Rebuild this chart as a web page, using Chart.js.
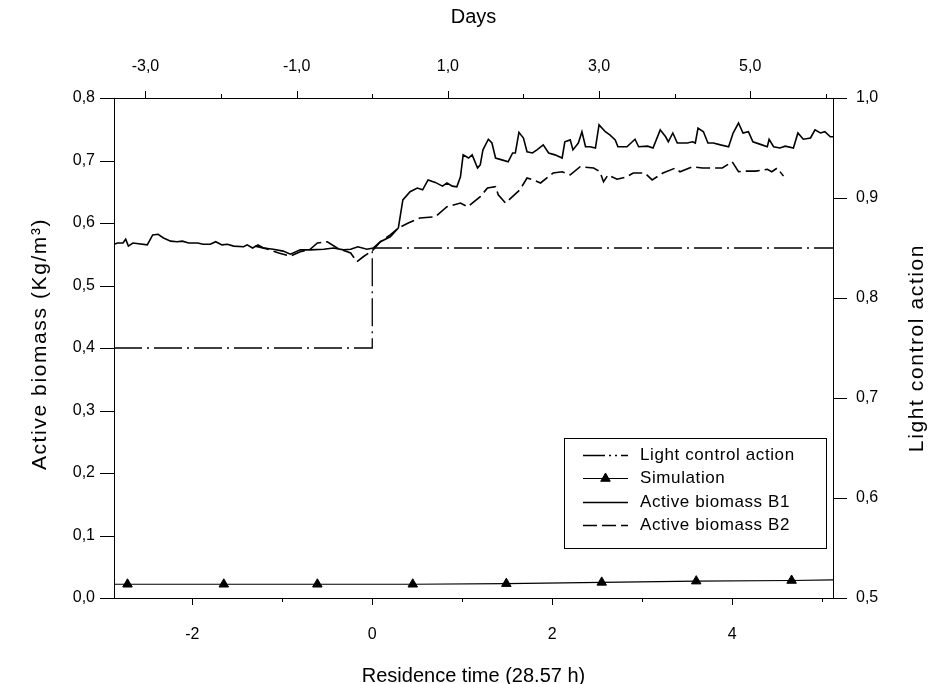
<!DOCTYPE html>
<html><head><meta charset="utf-8">
<script src="https://cdn.jsdelivr.net/npm/chart.js@4.4.1/dist/chart.umd.min.js"></script>
<style>html,body{margin:0;padding:0;background:#fff;}#wrap{width:931px;height:684px;}</style>
</head><body><div id="wrap"><canvas id="c" width="931" height="684"></canvas></div>
<script>
// ---- data (residence time units on x) ----
const lightX = [-2.87, 0, 0, 5.12];
const lightY = [0.75, 0.75, 0.85, 0.85];

const simX = [-2.87, -2.72, -1.65, -0.61, 0.45, 1.49, 2.55, 3.60, 4.66, 5.12];
const simY = [0.022, 0.022, 0.022, 0.022, 0.022, 0.023, 0.025, 0.027, 0.028, 0.029];

const b1X = [-2.87,-2.83,-2.77,-2.74,-2.71,-2.66,-2.50,-2.44,-2.38,-2.32,-2.24,-2.17,-2.11,-2.04,-1.94,-1.88,-1.80,-1.74,-1.67,-1.61,-1.54,-1.43,-1.39,-1.33,-1.27,-1.21,-1.10,-0.99,-0.91,-0.80,-0.69,-0.54,-0.43,-0.32,-0.24,-0.16,-0.06,0.01,
 0.09,0.20,0.29,0.34,0.42,0.50,0.56,0.62,0.70,0.78,0.83,0.89,0.94,0.98,1.01,1.07,1.11,1.17,1.20,1.23,1.29,1.33,1.37,1.44,1.51,1.56,1.59,1.63,1.68,1.72,1.78,1.83,1.90,1.96,2.03,2.11,2.14,2.20,2.23,2.29,2.33,2.37,2.42,2.48,2.52,2.59,2.64,2.70,2.73,2.83,2.92,2.96,3.06,3.12,3.20,3.26,3.29,3.34,3.39,3.50,3.56,3.59,3.62,3.68,3.73,3.79,3.87,3.96,4.01,4.07,4.12,4.18,4.23,4.33,4.39,4.41,4.46,4.53,4.59,4.68,4.73,4.79,4.87,4.92,4.98,5.03,5.09,5.12];
const b1Y = [0.566,0.568,0.568,0.574,0.563,0.568,0.565,0.581,0.582,0.576,0.571,0.570,0.571,0.568,0.568,0.566,0.566,0.570,0.565,0.566,0.563,0.562,0.565,0.560,0.565,0.560,0.558,0.555,0.550,0.557,0.557,0.558,0.560,0.557,0.558,0.562,0.558,0.560,
 0.570,0.578,0.592,0.637,0.650,0.656,0.653,0.669,0.665,0.659,0.664,0.659,0.658,0.674,0.709,0.704,0.709,0.688,0.693,0.717,0.734,0.728,0.704,0.701,0.698,0.712,0.712,0.745,0.736,0.714,0.712,0.717,0.725,0.712,0.709,0.704,0.730,0.733,0.717,0.728,0.746,0.722,0.722,0.720,0.757,0.746,0.741,0.733,0.722,0.722,0.734,0.722,0.723,0.720,0.749,0.738,0.730,0.744,0.728,0.728,0.730,0.728,0.752,0.746,0.728,0.728,0.725,0.722,0.744,0.760,0.744,0.746,0.730,0.725,0.722,0.734,0.722,0.720,0.723,0.720,0.744,0.734,0.736,0.749,0.744,0.746,0.738,0.738];

const b2X = [-1.30,-1.18,-1.04,-0.91,-0.80,-0.69,-0.61,-0.50,-0.39,-0.24,-0.17,-0.10,0.01,0.09,0.20,0.29,0.40,0.53,0.70,0.83,0.98,1.06,1.20,1.28,1.37,1.40,1.48,1.64,1.72,1.79,1.87,2.01,2.11,2.20,2.31,2.46,2.53,2.57,2.62,2.72,2.83,2.90,3.03,3.11,3.23,3.37,3.42,3.56,3.67,3.78,3.89,4.00,4.07,4.14,4.26,4.39,4.44,4.50,4.57];
const b2Y = [0.563,0.559,0.552,0.547,0.554,0.558,0.568,0.570,0.560,0.552,0.538,0.546,0.557,0.570,0.581,0.592,0.600,0.608,0.610,0.626,0.632,0.626,0.642,0.656,0.658,0.645,0.632,0.653,0.672,0.669,0.664,0.680,0.682,0.677,0.690,0.688,0.682,0.666,0.677,0.670,0.674,0.680,0.680,0.669,0.680,0.688,0.682,0.690,0.688,0.688,0.688,0.698,0.682,0.683,0.683,0.686,0.682,0.688,0.675];

const xRange = [-2.87, 5.12];       // residence time
const daysPerResidence = 28.57 / 24; // top axis conversion
const leftRange = [0, 0.8];
const rightRange = [0.5, 1.0];

const legendLabels = ['Light control action', 'Simulation', 'Active biomass B1', 'Active biomass B2'];
const titles = {bottom: 'Residence time (28.57 h)', top: 'Days', left: 'Active biomass (Kg/m³)', right: 'Light control action'};

// ---- drawing ----
const FONT = "'Liberation Sans', Arial, Helvetica, sans-serif";
Chart.defaults.font.family = FONT;
Chart.defaults.color = '#000';

function pts(xs, ys) { return xs.map((x, i) => ({x: x, y: ys[i]})); }
const comma = v => v.toFixed(1).replace('.', ',');
const isOdd = v => Math.abs(Math.round(v)) % 2 === 1;

const LIGHT_DASH = [28, 5, 2, 5];
const B2_DASH = [14, 5];

const tickMarks = {
  id: 'tickMarks',
  afterDraw(chart) {
    const ctx = chart.ctx;
    ctx.save();
    ctx.strokeStyle = '#000';
    ctx.lineWidth = 1;
    const s = chart.scales;
    ctx.beginPath();
    s.x.ticks.forEach(t => {
      const p = Math.round(s.x.getPixelForValue(t.value)) + 0.5;
      const len = isOdd(t.value) ? 4 : 7;
      ctx.moveTo(p, s.x.top); ctx.lineTo(p, s.x.top + len);
    });
    s.xTop.ticks.forEach(t => {
      const p = Math.round(s.xTop.getPixelForValue(t.value)) + 0.5;
      const len = isOdd(t.value) ? 7 : 4;
      ctx.moveTo(p, s.xTop.bottom); ctx.lineTo(p, s.xTop.bottom - len);
    });
    s.y.ticks.forEach(t => {
      const p = Math.round(s.y.getPixelForValue(t.value)) + 0.5;
      ctx.moveTo(s.y.right, p); ctx.lineTo(s.y.right - 14, p);
    });
    s.yR.ticks.forEach(t => {
      const p = Math.round(s.yR.getPixelForValue(t.value)) + 0.5;
      ctx.moveTo(s.yR.left, p); ctx.lineTo(s.yR.left + 14, p);
    });
    ctx.stroke();
    ctx.restore();
  }
};

function vText(ctx, text, x, y) {
  ctx.save();
  ctx.translate(x, y);
  ctx.rotate(-Math.PI / 2);
  ctx.fillText(text, 0, 0);
  ctx.restore();
}

const extras = {
  id: 'extras',
  afterDraw(chart) {
    const ctx = chart.ctx;
    const ca = chart.chartArea;
    ctx.save();
    ctx.font = '21px ' + FONT;
    try { ctx.letterSpacing = '1.6px'; } catch (e) {}
    ctx.fillStyle = '#000';
    ctx.textAlign = 'center';
    ctx.textBaseline = 'middle';
    vText(ctx, titles.left, 40, (ca.top + ca.bottom) / 2 - 4);
    vText(ctx, titles.right, 917, (ca.top + ca.bottom) / 2);
    ctx.restore();

    // legend box
    ctx.save();
    const bx = 564, by = 438, bw = 262, bh = 110;
    ctx.fillStyle = '#fff';
    ctx.fillRect(bx, by, bw, bh);
    ctx.strokeStyle = '#000';
    ctx.lineWidth = 1;
    ctx.strokeRect(bx + 0.5, by + 0.5, bw, bh);
    const rows = [455, 478, 502, 525];
    const x1 = 583, x2 = 628;
    chart.data.datasets.forEach((ds, i) => {
      const y = rows[i] + 0.5;
      ctx.save();
      ctx.strokeStyle = '#000';
      ctx.lineWidth = ds.borderWidth;
      ctx.setLineDash(i === 0 ? [22, 4, 2, 4, 2, 4] : (ds.borderDash || []));
      ctx.beginPath(); ctx.moveTo(x1, y); ctx.lineTo(x2, y); ctx.stroke();
      ctx.restore();
      if (i === 1) {
        ctx.fillStyle = '#000'; ctx.strokeStyle = '#000';
        Chart.helpers.drawPoint(ctx, {pointStyle: 'triangle', radius: 5.5, borderWidth: 1}, (x1 + x2) / 2, y);
      }
      ctx.save();
      ctx.fillStyle = '#000';
      ctx.font = '17px ' + FONT;
      try { ctx.letterSpacing = '0.6px'; } catch (e) {}
      ctx.textAlign = 'left';
      ctx.textBaseline = 'middle';
      ctx.fillText(legendLabels[i], 640, rows[i]);
      ctx.restore();
    });
    ctx.restore();
  }
};

const axisBase = {
  grid: {display: true, drawOnChartArea: false, drawTicks: false},
  border: {display: true, color: '#000', width: 1}
};

new Chart(document.getElementById('c'), {
  type: 'line',
  data: {
    datasets: [
      {label: legendLabels[0], data: pts(lightX, lightY), yAxisID: 'yR', xAxisID: 'x',
       borderColor: '#000', borderWidth: 1.3, borderDash: LIGHT_DASH, pointRadius: 0, tension: 0, fill: false},
      {label: legendLabels[1], data: pts(simX, simY), yAxisID: 'y', xAxisID: 'x',
       borderColor: '#000', backgroundColor: '#000', borderWidth: 1.2, tension: 0, fill: false,
       pointStyle: 'triangle', pointBorderWidth: 1,
       pointRadius: c => (c.dataIndex === 0 || c.dataIndex === simX.length - 1) ? 0 : 5.5},
      {label: legendLabels[2], data: pts(b1X, b1Y), yAxisID: 'y', xAxisID: 'x',
       borderColor: '#000', borderWidth: 1.6, pointRadius: 0, tension: 0, fill: false},
      {label: legendLabels[3], data: pts(b2X, b2Y), yAxisID: 'y', xAxisID: 'x',
       borderColor: '#000', borderWidth: 1.6, borderDash: B2_DASH, pointRadius: 0, tension: 0, fill: false}
    ]
  },
  options: {
    responsive: false,
    animation: false,
    devicePixelRatio: 1,
    layout: {padding: 0},
    plugins: {legend: {display: false}, tooltip: {enabled: false}},
    scales: {
      x: Object.assign({}, axisBase, {
        type: 'linear', position: 'bottom', min: xRange[0], max: xRange[1],
        afterFit: s => { s.height = 86; },
        ticks: {stepSize: 1, includeBounds: false, autoSkip: false, maxRotation: 0, padding: 27,
                font: {size: 16}, color: '#000',
                callback: v => isOdd(v) ? '' : String(Math.round(v))},
        title: {display: true, text: titles.bottom, font: {size: 20}, color: '#000',
                padding: {top: 0, bottom: -4}}
      }),
      xTop: Object.assign({}, axisBase, {
        type: 'linear', position: 'top',
        min: xRange[0] * daysPerResidence, max: xRange[1] * daysPerResidence,
        afterFit: s => { s.height = 98; },
        ticks: {stepSize: 1, includeBounds: false, autoSkip: false, maxRotation: 0, padding: 22,
                font: {size: 16}, color: '#000',
                callback: v => isOdd(v) ? comma(v) : ''},
        title: {display: true, text: titles.top, font: {size: 20}, color: '#000', padding: {top: 5, bottom: 0}}
      }),
      y: Object.assign({}, axisBase, {
        type: 'linear', position: 'left', min: leftRange[0], max: leftRange[1],
        afterFit: s => { s.width = 114; },
        ticks: {stepSize: 0.1, includeBounds: false, autoSkip: false, padding: 19,
                font: {size: 16}, color: '#000', callback: v => comma(v)},
        title: {display: false}
      }),
      yR: Object.assign({}, axisBase, {
        type: 'linear', position: 'right', min: rightRange[0], max: rightRange[1],
        afterFit: s => { s.width = 98; },
        ticks: {stepSize: 0.1, includeBounds: false, autoSkip: false, padding: 23,
                font: {size: 16}, color: '#000', callback: v => comma(v)},
        title: {display: false}
      })
    }
  },
  plugins: [tickMarks, extras]
});
</script>
</body></html>
